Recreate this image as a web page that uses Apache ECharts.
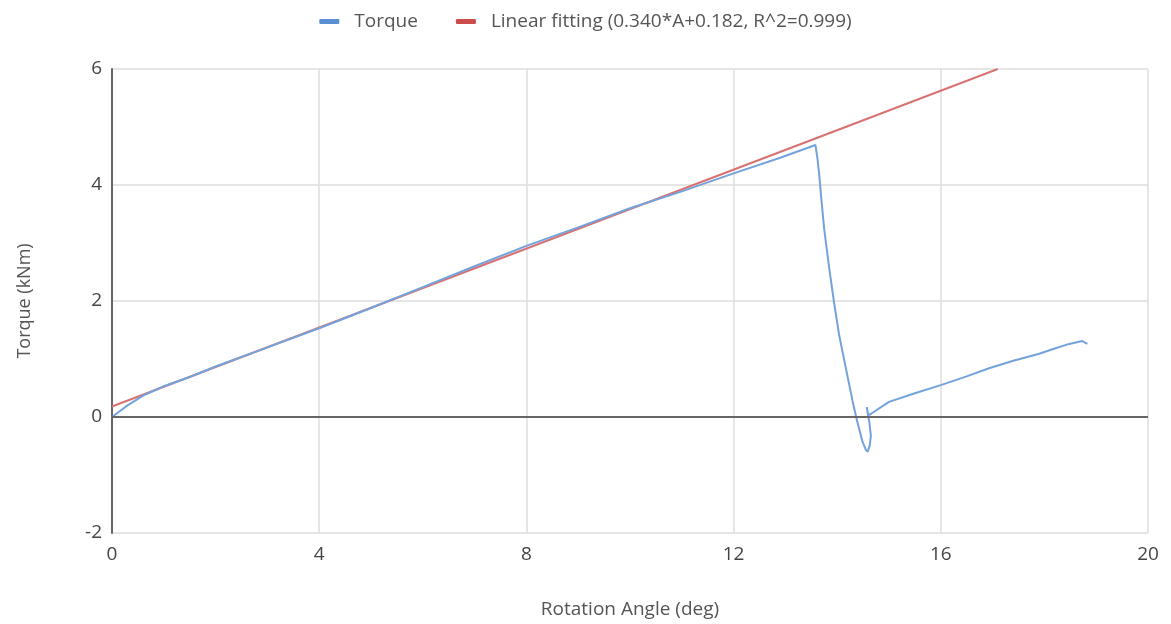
<!DOCTYPE html>
<html>
<head>
<meta charset="utf-8">
<script src="https://cdn.jsdelivr.net/npm/echarts@6/dist/echarts.min.js"></script>
<style>
  html, body { margin: 0; padding: 0; background: #fff; }
  #chart { width: 1171px; height: 624px; }
</style>
</head>
<body>
<div id="chart"></div>
<script>
// Measured torque vs. rotation angle: [angle (deg), torque (kNm)]
const torquePoints = [
  [0, 0], [0.15, 0.1], [0.3, 0.2], [0.6, 0.37], [1.0, 0.53], [1.5, 0.69],
  [2, 0.87], [3, 1.2], [4, 1.53], [5, 1.88], [6, 2.24], [7, 2.6],
  [8, 2.95], [9, 3.27], [10, 3.6], [11, 3.89], [12, 4.2], [12.9, 4.47],
  [13.58, 4.69], [13.62, 4.45], [13.65, 4.2], [13.7, 3.7], [13.75, 3.23],
  [13.85, 2.54], [13.94, 1.97], [14.04, 1.40], [14.17, 0.83], [14.3, 0.26],
  [14.39, -0.09], [14.49, -0.43], [14.55, -0.56], [14.59, -0.6], [14.63, -0.48],
  [14.65, -0.32], [14.62, -0.09], [14.57, 0.17], [14.6, 0.03], [14.66, 0.06],
  [15.0, 0.26], [15.5, 0.41], [16, 0.55], [16.5, 0.7], [16.93, 0.84],
  [17.4, 0.97], [17.9, 1.09], [18.2, 1.18], [18.48, 1.26], [18.73, 1.31],
  [18.83, 1.26]
];

// Endpoints of the fitted line T = 0.340*A + 0.182
const fitPoints = [[0, 0.182], [17.1, 6.0]];

const seriesNames = ['Torque', 'Linear fitting (0.340*A+0.182, R^2=0.999)'];
const xTicks = { min: 0, max: 20, interval: 4 };
const yTicks = { min: -2, max: 6, interval: 2 };

const FONT = '"Open Sans", "Noto Sans", sans-serif';
const chart = echarts.init(document.getElementById('chart'));

chart.setOption({
  animation: false,
  backgroundColor: '#ffffff',
  textStyle: { fontFamily: FONT },
  legend: {
    top: 7,
    left: 'center',
    itemWidth: 20,
    itemHeight: 5,
    itemGap: 38,
    icon: 'roundRect',
    textStyle: { fontFamily: FONT, fontSize: 19, color: '#555', padding: [0, 0, 0, 10] },
    data: seriesNames
  },
  grid: { left: 112, right: 23, top: 69, bottom: 89 },
  xAxis: {
    type: 'value',
    min: xTicks.min, max: xTicks.max, interval: xTicks.interval,
    name: 'Rotation Angle (deg)',
    nameLocation: 'middle',
    nameGap: 67,
    nameTextStyle: { fontFamily: FONT, fontSize: 19, color: '#555' },
    axisLine: { show: false },
    axisTick: { show: false },
    axisLabel: { margin: 12, fontFamily: FONT, fontSize: 19, color: '#444' },
    splitLine: { show: true, lineStyle: { color: '#dedede', width: 1.5 } }
  },
  yAxis: {
    type: 'value',
    min: yTicks.min, max: yTicks.max, interval: yTicks.interval,
    name: 'Torque (kNm)',
    nameLocation: 'middle',
    nameGap: 78,
    nameRotate: 90,
    nameTextStyle: { fontFamily: FONT, fontSize: 18, color: '#555' },
    axisLine: { show: true, onZero: false, lineStyle: { color: '#666', width: 2 } },
    axisTick: { show: false },
    axisLabel: { margin: 10, fontFamily: FONT, fontSize: 19, color: '#444' },
    splitLine: { show: true, lineStyle: { color: '#dedede', width: 1.5 } }
  },
  series: [
    {
      name: seriesNames[0],
      type: 'line',
      data: torquePoints,
      showSymbol: false,
      z: 3,
      color: '#5b8fd4',
      lineStyle: { color: '#73a2dc', width: 2 },
      markLine: {
        silent: true,
        symbol: ['none', 'none'],
        label: { show: false },
        lineStyle: { color: '#666', width: 2, type: 'solid' },
        data: [{ yAxis: 0 }]
      }
    },
    {
      name: seriesNames[1],
      type: 'line',
      data: fitPoints,
      showSymbol: false,
      z: 2,
      color: '#cc4b4b',
      lineStyle: { color: '#d87272', width: 2 }
    }
  ]
});
</script>
</body>
</html>
